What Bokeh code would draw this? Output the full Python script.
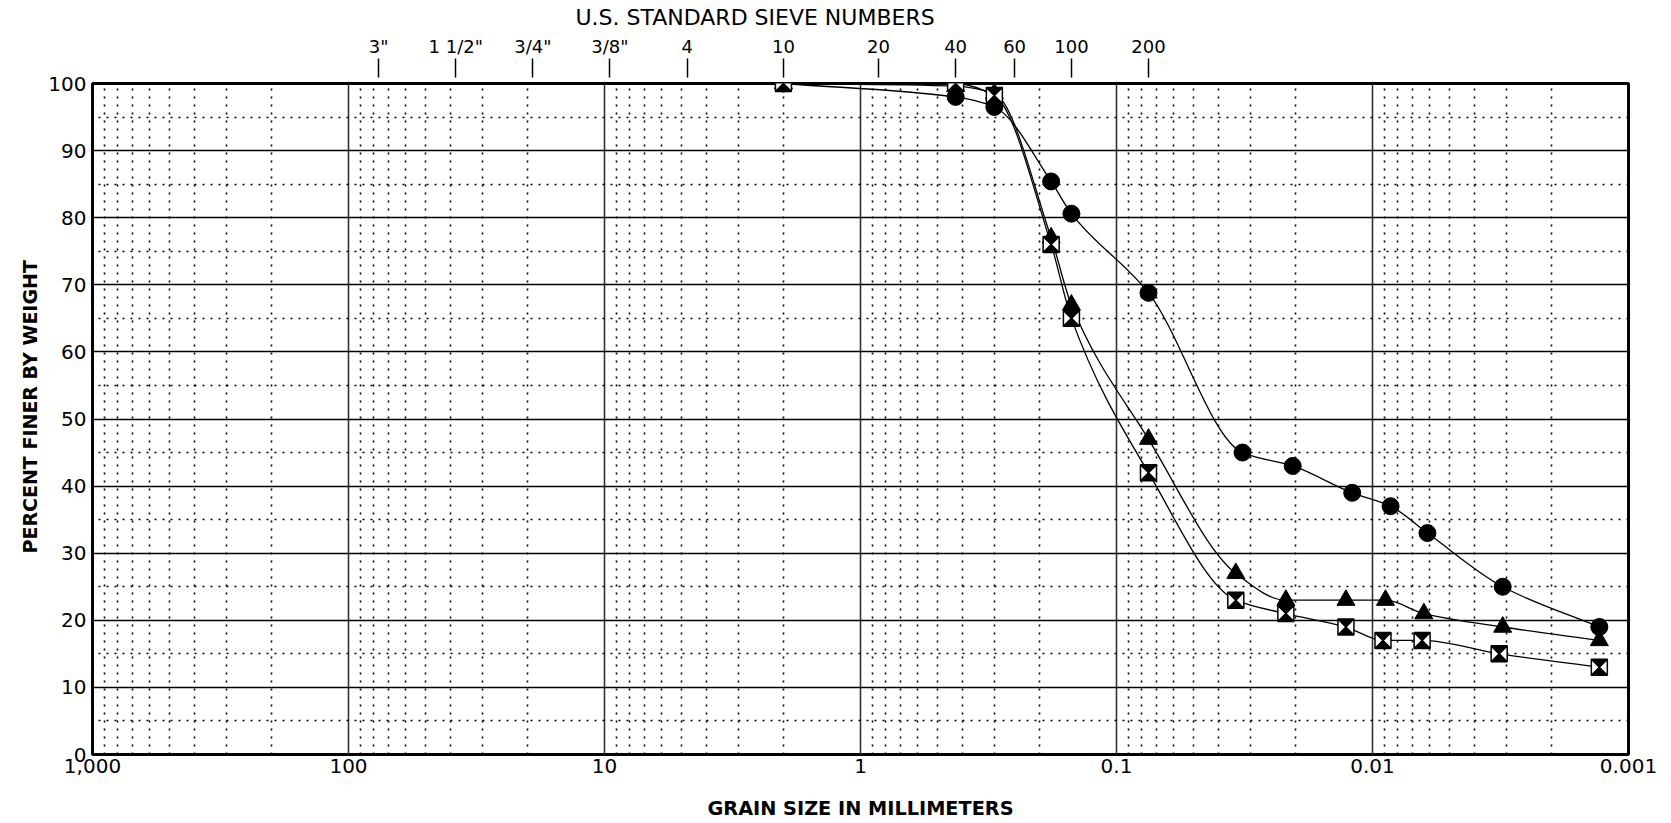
import numpy as np
from bokeh.plotting import figure
from bokeh.models import Range1d, FixedTicker, LogAxis, CustomJSTickFormatter, Title
from bokeh.embed import file_html
from bokeh.resources import INLINE

# ---------------- data ----------------
sieve_labels = ['3"', '1 1/2"', '3/4"', '3/8"', '4', '10', '20', '40', '60', '100', '200']
sieve_mm = [76.2, 38.1, 19.05, 9.525, 4.75, 2.0, 0.85, 0.425, 0.25, 0.15, 0.075]

x_ticks = [1000, 100, 10, 1, 0.1, 0.01, 0.001]
x_tick_labels = ["1,000", "100", "10", "1", "0.1", "0.01", "0.001"]
y_ticks = [0, 10, 20, 30, 40, 50, 60, 70, 80, 90, 100]

circle_mm = [2.0, 0.425, 0.3, 0.18, 0.15, 0.075, 0.0322, 0.0205, 0.0120, 0.0085, 0.0061, 0.0031, 0.0013]
circle_pct = [100, 98, 96.5, 85.4, 80.6, 68.8, 45, 43, 39, 37, 33, 25, 19]

tri_mm = [2.0, 0.425, 0.3, 0.18, 0.15, 0.075, 0.0342, 0.0218, 0.0127, 0.0089, 0.0063, 0.0031, 0.0013]
tri_pct = [100, 99.6, 98.5, 77, 67, 47, 27, 23, 23, 23, 21, 19, 17]

sq_mm = [2.0, 0.425, 0.3, 0.18, 0.15, 0.075, 0.0342, 0.0218, 0.0127, 0.0091, 0.0064, 0.0032, 0.0013]
sq_pct = [100, 100, 98.2, 76, 65, 42, 23, 21, 19, 17, 17, 15, 13]

# ---------------- layout constants ----------------
FRAME_W, FRAME_H = 1536, 672
DECADES = 6

p = figure(width=1663, height=822, x_axis_type="log",
           x_range=Range1d(1000, 0.001), y_range=Range1d(0, 100),
           output_backend="svg", toolbar_location=None,
           min_border_left=92, min_border_right=35,
           min_border_top=83, min_border_bottom=67)
p.background_fill_color = "white"
p.border_fill_color = "white"
p.outline_line_color = "black"
p.outline_line_width = 3

# title
p.title.text = "U.S. STANDARD SIEVE NUMBERS"
p.title.align = "left"
p.title.offset = 483
p.title.text_font = "DejaVu Sans"
p.title.text_font_size = "22px"
p.title.text_font_style = "normal"
p.title.text_color = "black"
p.title.standoff = 5

# bottom axis
xa = p.xaxis[0]
xa.ticker = FixedTicker(ticks=x_ticks)
xa.formatter = CustomJSTickFormatter(args=dict(vals=x_ticks, labs=x_tick_labels), code="""
    for (let i = 0; i < vals.length; i++) {
        if (Math.abs(Math.log10(vals[i]) - Math.log10(tick)) < 1e-6) return labs[i];
    }
    return "";
""")
xa.axis_label = "GRAIN SIZE IN MILLIMETERS"
xa.axis_label_text_font = "DejaVu Sans"
xa.axis_label_text_font_style = "bold"
xa.axis_label_text_font_size = "19.3px"
xa.axis_label_text_color = "black"
xa.axis_label_standoff = 21
xa.major_label_text_font = "DejaVu Sans"
xa.major_label_text_font_size = "20px"
xa.major_label_text_color = "black"
xa.major_label_standoff = 4
xa.axis_line_color = None
xa.major_tick_line_color = None
xa.major_tick_in = 0
xa.major_tick_out = 0
xa.minor_tick_line_color = None

# left axis
ya = p.yaxis[0]
ya.ticker = FixedTicker(ticks=y_ticks)
ya.major_label_text_font = "DejaVu Sans"
ya.major_label_text_font_size = "20px"
ya.major_label_text_color = "black"
ya.major_label_standoff = 6
ya.axis_line_color = None
ya.major_tick_line_color = None
ya.major_tick_in = 0
ya.major_tick_out = 0
ya.minor_tick_line_color = None

# y axis title (slightly above centre, as in the original)
ytitle = Title(text="PERCENT FINER BY WEIGHT", align="left", offset=201,
               text_font="DejaVu Sans", text_font_style="bold",
               text_font_size="19px", text_color="black", standoff=9)
p.add_layout(ytitle, "left")

# top sieve axis
top = LogAxis(ticker=FixedTicker(ticks=sieve_mm),
              formatter=CustomJSTickFormatter(args=dict(vals=sieve_mm, labs=sieve_labels), code="""
    for (let i = 0; i < vals.length; i++) {
        if (Math.abs(Math.log10(vals[i]) - Math.log10(tick)) < 1e-6) return labs[i];
    }
    return "";
"""))
top.axis_line_color = None
top.major_tick_in = -6
top.major_tick_out = 25
top.major_tick_line_color = "black"
top.major_tick_line_width = 1.5
top.minor_tick_line_color = None
top.major_label_standoff = 2
top.major_label_text_font = "DejaVu Sans"
top.major_label_text_font_size = "18px"
top.major_label_text_color = "black"
p.add_layout(top, "above")

# grids
decades = [100, 10, 1, 0.1, 0.01]
minor_x = [m * 10.0 ** e for e in range(-3, 3) for m in range(2, 10)]
p.xgrid.ticker = FixedTicker(ticks=decades, minor_ticks=minor_x)
p.xgrid.grid_line_color = "#333333"
p.xgrid.grid_line_width = 1.6
p.xgrid.grid_line_alpha = 1.0
p.xgrid.minor_grid_line_color = "black"
p.xgrid.minor_grid_line_width = 1.6
p.xgrid.minor_grid_line_dash = "2 6"

p.ygrid.ticker = FixedTicker(ticks=y_ticks[1:-1], minor_ticks=[t + 5 for t in y_ticks[:-1]])
p.ygrid.grid_line_color = "black"
p.ygrid.grid_line_width = 1.5
p.ygrid.grid_line_alpha = 1.0
p.ygrid.minor_grid_line_color = "black"
p.ygrid.minor_grid_line_width = 1.6
p.ygrid.minor_grid_line_dash = "2 6"


# smooth (monotone cubic) connecting curves drawn as Bezier segments
def bezier_segments(d, pct):
    u = -np.log10(np.asarray(d, dtype=float))
    y = np.asarray(pct, dtype=float)
    h = np.diff(u)
    delta = np.diff(y) / h
    n = len(u)
    m = np.zeros(n)
    for i in range(1, n - 1):
        if delta[i - 1] * delta[i] > 0:
            w1 = 2 * h[i] + h[i - 1]
            w2 = h[i] + 2 * h[i - 1]
            m[i] = (w1 + w2) / (w1 / delta[i - 1] + w2 / delta[i])
    m[0] = delta[0]
    m[-1] = delta[-1]
    return dict(
        x0=10 ** -u[:-1], y0=y[:-1],
        x1=10 ** -u[1:], y1=y[1:],
        cx0=10 ** -(u[:-1] + h / 3), cy0=y[:-1] + m[:-1] * h / 3,
        cx1=10 ** -(u[1:] - h / 3), cy1=y[1:] - m[1:] * h / 3,
    )


for d, pc in [(circle_mm, circle_pct), (tri_mm, tri_pct), (sq_mm, sq_pct)]:
    seg = bezier_segments(d, pc)
    p.bezier(line_color="black", line_width=1.3, **seg)

# markers
p.scatter(circle_mm, circle_pct, marker="circle", size=17,
          fill_color="black", line_color="black")
p.scatter(tri_mm, tri_pct, marker="triangle", size=18,
          fill_color="black", line_color="black")
p.scatter(sq_mm, sq_pct, marker="square_x", size=16,
          fill_color="white", line_color="black", line_width=1.5)

# hourglass fill inside square markers
half_px = 7.5
kx = 10 ** (half_px / (FRAME_W / DECADES))
hy = half_px / (FRAME_H / 100.0)
xs, ys = [], []
for d, pc in zip(sq_mm, sq_pct):
    xs.append([d * kx, d / kx, d])
    ys.append([pc + hy, pc + hy, pc])
    xs.append([d * kx, d / kx, d])
    ys.append([pc - hy, pc - hy, pc])
p.patches(xs, ys, fill_color="black", line_color="black", line_width=1)

open("out.html", "w").write(file_html(p, INLINE))
